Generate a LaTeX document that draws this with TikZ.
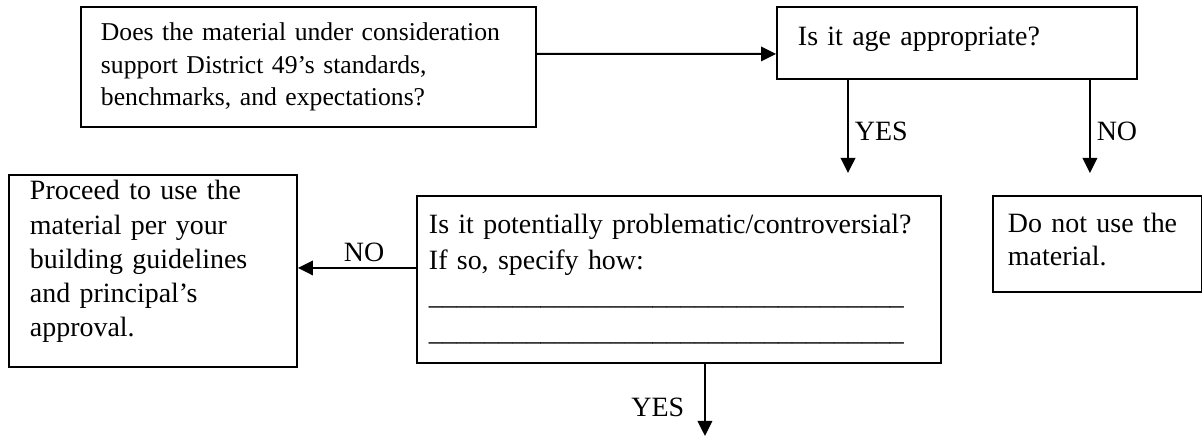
\documentclass[tikz,border=0pt]{standalone}
\usepackage{fontspec}
\setmainfont{Liberation Serif}
\usetikzlibrary{arrows.meta}
\tikzset{
  box/.style={draw, line width=1.1pt, anchor=north west, inner ysep=0pt, align=left,
    font=\fontsize{15.9}{19.4}\selectfont},
  lbl/.style={font=\fontsize{15.9}{19.4}\selectfont},
  arr/.style={line width=1.1pt, -{Triangle[length=0.3cm,width=0.29cm]}}
}

\begin{document}
\begin{tikzpicture}
        \useasboundingbox (0,0) rectangle (24.04,8.72);
        % The questions
        \node[box, inner xsep=0.4cm, text width=8.3cm, text height=0.68cm, text depth=1.72cm,
            font=\fontsize{14.6}{18.3}\selectfont] (q1) at (1.6,8.6)
            {Does the material under consideration\\ support District 49's standards,\\ benchmarks, and expectations?};
        \node[box, inner xsep=0.42cm, text width=6.36cm, text height=0.78cm, text depth=0.66cm] (q2) at (15.52,8.6)
            {Is it age appropriate?};
        \node[box, inner xsep=0.24cm, text width=10cm, text height=0.76cm, text depth=2.58cm,
            font=\fontsize{15.9}{20.2}\selectfont] (q3) at (8.32,4.82)
            {Is it potentially problematic/controversial?\\ If so, specify how:\\
             \_\_\_\_\_\_\_\_\_\_\_\_\_\_\_\_\_\_\_\_\_\_\_\_\_\_\_\_\_\_\_\_\_\_\\
             \_\_\_\_\_\_\_\_\_\_\_\_\_\_\_\_\_\_\_\_\_\_\_\_\_\_\_\_\_\_\_\_\_\_};

        % The answers
        \node[box, inner xsep=0.3cm, text width=3.58cm, text height=0.74cm, text depth=1.18cm,
            font=\fontsize{15.9}{18.8}\selectfont] (q4) at (19.84,4.82)
            {Do not use the\\ material.};
        \node[box, inner xsep=0.42cm, text width=4.92cm, text height=0.5cm, text depth=3.34cm] (q5) at (0.16,5.24)
            {Proceed to use the\\ material per your\\ building guidelines\\ and principal's\\ approval.};

        % Arrows
        \draw[arr] ([yshift=0.26cm]q1.east) -- ([yshift=-0.22cm]q2.west);
        \draw[arr, shorten >=0.44cm] ([xshift=1.44cm]q2.south west) -- ([xshift=1.44cm]q2.south west |- q3.north)
            node[lbl, pos=0.45, right] (yes1) {YES};
        \draw[arr, shorten >=0.44cm] ([xshift=-0.96cm]q2.south east) -- ([xshift=-0.96cm]q2.south east |- q4.north)
            node[lbl, pos=0.45, right] (no1) {NO};
        \draw[arr] ([yshift=0.23cm]q3.west) -- ([yshift=0.23cm]q3.west -| q5.east)
            node[lbl, pos=0.44, above, inner ysep=3pt] (no2) {NO};
        \coordinate (tail) at ([xshift=0.52cm]q3.south |- 0,0);
        \draw[arr] ([xshift=0.52cm]q3.south) -- (tail)
            node[lbl, pos=0.6, left=0.28cm] (yes2) {YES};
\end{tikzpicture}
\end{document}
